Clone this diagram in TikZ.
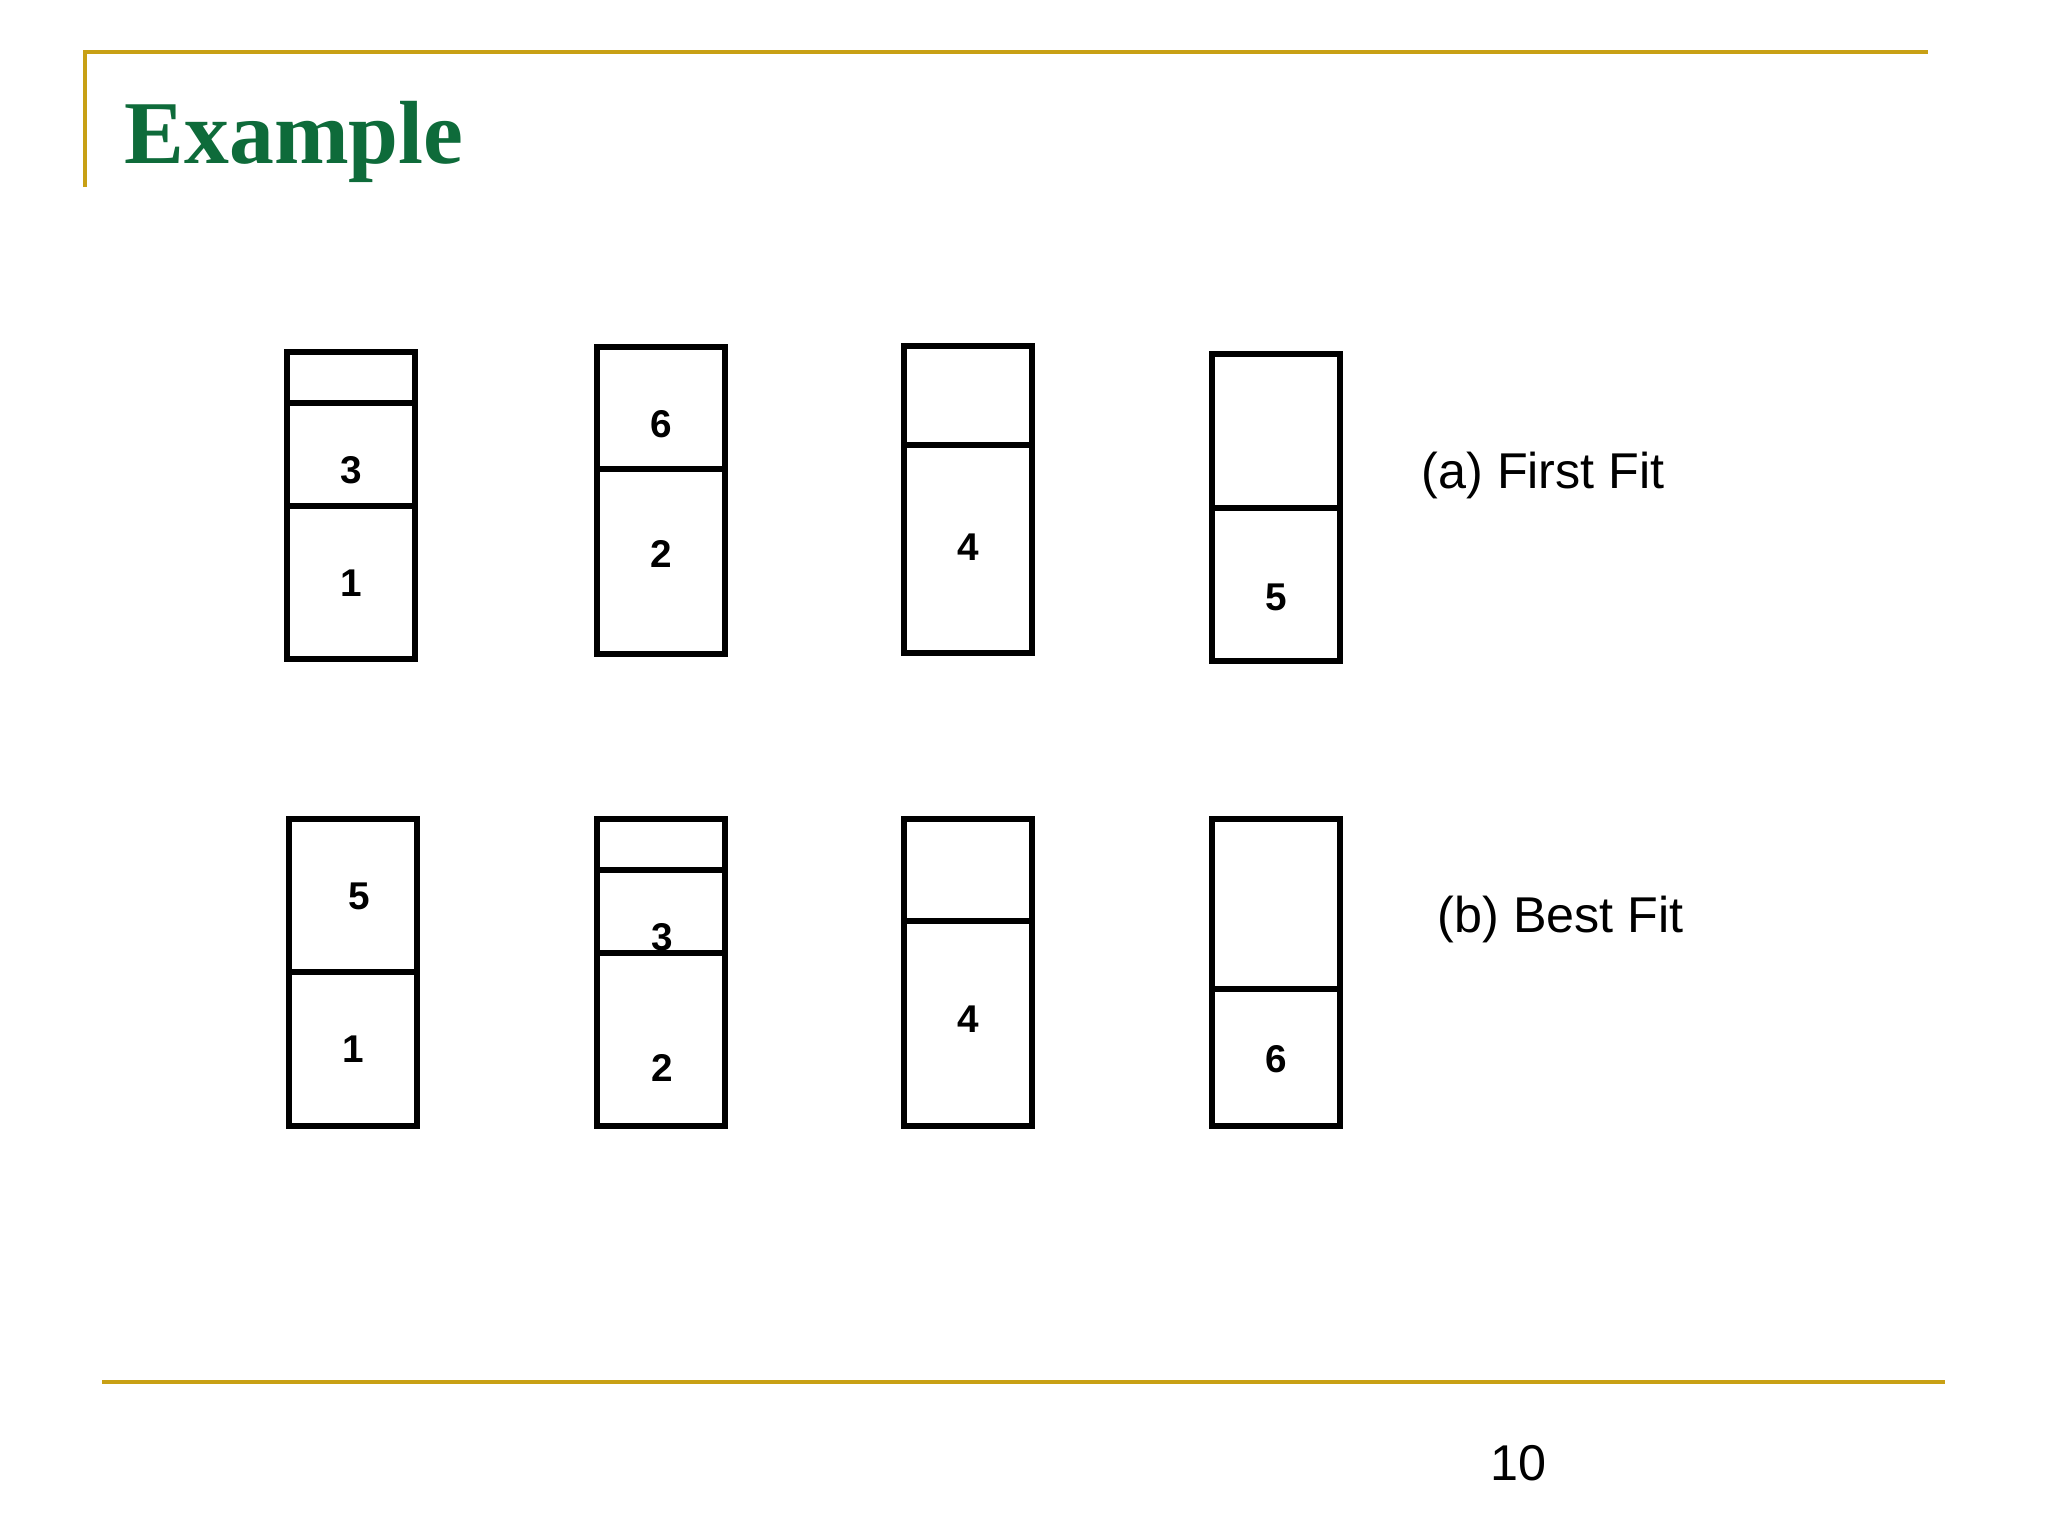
\documentclass[tikz,border=0pt]{standalone}
\usepackage{fontspec}
\setmainfont{Liberation Serif}
\newfontfamily\arialfont{Liberation Sans}
\definecolor{slidegold}{HTML}{C8A015}
\definecolor{slidegreen}{HTML}{0E6B3A}
\tikzset{
  binline/.style={line width=1.45pt},
  goldline/.style={line width=1.15pt,slidegold},
  num/.style={inner sep=0pt,font=\arialfont\bfseries\fontsize{11}{13}\selectfont},
  caption/.style={inner sep=0pt,anchor=base west,font=\arialfont\fontsize{14.3}{17}\selectfont}
}
\newcommand{\mybin}[2]{
  \draw[binline] (#1,#2) rectangle ++(128,307);
}
\newcommand{\cutbin}[2]{
  \draw[binline] (#1,#2) -- ++(128,0); % divider
}

\begin{document}
\begin{tikzpicture}[x=0.01cm,y=-0.01cm]
  \useasboundingbox[fill=white] (0,0) rectangle (2048,1536);

  % slide frame
  \coordinate (tl) at (85,52);
  \coordinate (tr) at (1928,52);
  \coordinate (lb) at (85,187);
  \coordinate (bl) at (102,1382);
  \coordinate (br) at (1945,1382);
  \draw[goldline] (lb) -- (tl) -- (tr);
  \draw[goldline] (bl) -- (br);

  \node[inner sep=0pt,anchor=base west,text=slidegreen,
        font=\bfseries\fontsize{25.5}{30}\selectfont] (title) at (124,163) {Example};
  \node[caption] (page) at (1490,1480) {10};

  % (a) first fit
  \mybin{287}{352}
  \cutbin{287}{403}
  \cutbin{287}{506}
  \mybin{597}{347}
  \cutbin{597}{469}
  \mybin{904}{346}
  \cutbin{904}{445}
  \mybin{1212}{354}
  \cutbin{1212}{508}

  \node[num] (a3) at (351,470) {3};
  \node[num] (a1) at (351,583) {1};
  \node[num] (a6) at (661,424) {6};
  \node[num] (a2) at (661,554) {2};
  \node[num] (a4) at (968,547) {4};
  \node[num] (a5) at (1276,597) {5};
  \node[caption] (ff) at (1421,488) {(a) First Fit};

  % (b) best fit
  \mybin{289}{819}
  \cutbin{289}{972}
  \mybin{597}{819}
  \cutbin{597}{870}
  \cutbin{597}{953}
  \mybin{904}{819}
  \cutbin{904}{921}
  \mybin{1212}{819}
  \cutbin{1212}{989}

  \node[num] (b5) at (359,896) {5};
  \node[num] (b1) at (353,1049) {1};
  \node[num] (b3) at (662,937) {3};
  \node[num] (b2) at (662,1068) {2};
  \node[num] (b4) at (968,1019) {4};
  \node[num] (b6) at (1276,1059) {6};
  \node[caption] (bf) at (1437,932) {(b) Best Fit};
\end{tikzpicture}
\end{document}
